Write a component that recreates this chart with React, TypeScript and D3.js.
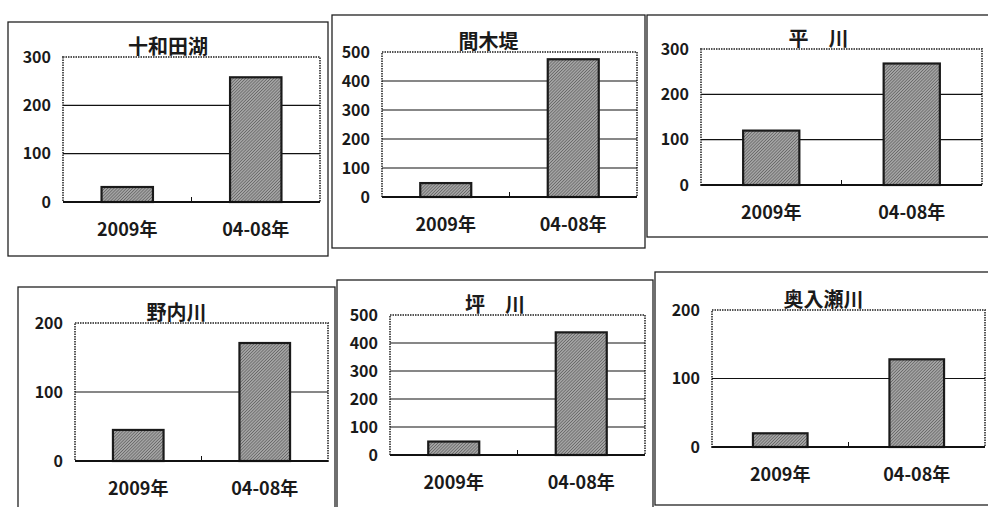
import React from "react";
import * as d3 from "d3";

// Survey sites and the two compared periods
const sites = ["十和田湖", "間木堤", "平　川", "野内川", "坪　川", "奥入瀬川"];
const categories = ["2009年", "04-08年"];

// Counts per site: 2009 season and the 2004–2008 average
const values2009 = [31, 48, 120, 45, 48, 20];
const values0408 = [258, 475, 268, 171, 438, 128];

// Upper limit of each panel's value axis and its tick step
const axisMax = [300, 500, 300, 200, 500, 200];
const tickStep = [100, 100, 100, 100, 100, 100];

// Page layout of the six panels: outer frame and plot area
const frames = [
  { x0: 8, y0: 22, x1: 328, y1: 256 },
  { x0: 332, y0: 15, x1: 645, y1: 248 },
  { x0: 647, y0: 15, x1: 990, y1: 237 },
  { x0: 18, y0: 287, x1: 335, y1: 512 },
  { x0: 337, y0: 280, x1: 653, y1: 512 },
  { x0: 655, y0: 272, x1: 992, y1: 505 },
];
const plots = [
  { x0: 63, y0: 57, x1: 320, y1: 202 },
  { x0: 382, y0: 52, x1: 637, y1: 197 },
  { x0: 701, y0: 49, x1: 982, y1: 185 },
  { x0: 75, y0: 323, x1: 328, y1: 461 },
  { x0: 390, y0: 315, x1: 645, y1: 455 },
  { x0: 712, y0: 310, x1: 985, y1: 447 },
];

const FONT = "'Noto Sans CJK JP', 'Noto Sans', sans-serif";

function Panel({ i }: { i: number }) {
  const f = frames[i];
  const p = plots[i];
  const vals = [values2009[i], values0408[i]];
  const x = d3
    .scaleBand<string>()
    .domain(categories)
    .range([p.x0, p.x1])
    .paddingInner(0.6)
    .paddingOuter(0.3);
  const y = d3.scaleLinear().domain([0, axisMax[i]]).range([p.y1, p.y0]);
  const ticks = d3.range(0, axisMax[i] + 1, tickStep[i]);
  const midX = (p.x0 + p.x1) / 2;

  return (
    <g>
      <rect
        x={f.x0}
        y={f.y0}
        width={f.x1 - f.x0}
        height={f.y1 - f.y0}
        fill="none"
        stroke="#222"
        strokeWidth={1.3}
      />
      <text
        x={(f.x0 + f.x1) / 2}
        y={p.y0 - 3}
        textAnchor="middle"
        fontFamily={FONT}
        fontSize={20}
        fontWeight={700}
        fill="#1a1a1a"
      >
        {sites[i]}
      </text>
      {/* plot area border */}
      <rect
        x={p.x0}
        y={p.y0}
        width={p.x1 - p.x0}
        height={p.y1 - p.y0}
        fill="none"
        stroke="#555"
        strokeWidth={2}
        strokeDasharray="1.5,1"
      />
      {/* gridlines */}
      {ticks
        .filter((t) => t > 0 && t < axisMax[i])
        .map((t) => (
          <line key={t} x1={p.x0} x2={p.x1} y1={y(t)} y2={y(t)} stroke="#111" strokeWidth={1.1} />
        ))}
      {/* tick labels */}
      {ticks.map((t) => (
        <text
          key={"l" + t}
          x={p.x0 - 12}
          y={y(t)}
          dy="0.36em"
          textAnchor="end"
          fontFamily={FONT}
          fontSize={16}
          fontWeight={700}
          fill="#1a1a1a"
        >
          {t}
        </text>
      ))}
      {/* bars */}
      {categories.map((c, k) => (
        <rect
          key={c}
          x={x(c)!}
          y={y(vals[k])}
          width={x.bandwidth()}
          height={y(0) - y(vals[k])}
          fill="url(#hatch)"
          stroke="#1a1a1a"
          strokeWidth={2.2}
        />
      ))}
      {/* category axis */}
      <line x1={p.x0} x2={p.x1} y1={p.y1} y2={p.y1} stroke="#111" strokeWidth={1.8} />
      <line x1={midX} x2={midX} y1={p.y1} y2={p.y1 - 5} stroke="#111" strokeWidth={1} />
      {categories.map((c) => (
        <text
          key={"c" + c}
          x={x(c)! + x.bandwidth() / 2}
          y={p.y1 + 34}
          textAnchor="middle"
          fontFamily={FONT}
          fontSize={18}
          fontWeight={700}
          fill="#1a1a1a"
        >
          {c}
        </text>
      ))}
    </g>
  );
}

export default function App() {
  return (
    <svg
      width={988}
      height={507}
      style={{ position: "absolute", left: 0, top: 0, background: "#fff" }}
    >
      <defs>
        <pattern id="hatch" width={2.2} height={2.2} patternUnits="userSpaceOnUse" patternTransform="rotate(45)">
          <rect width={2.2} height={2.2} fill="#a4a4a4" />
          <line x1={0} y1={0} x2={0} y2={2.2} stroke="#4a4a4a" strokeWidth={1} />
        </pattern>
      </defs>
      {sites.map((_, i) => (
        <Panel key={i} i={i} />
      ))}
    </svg>
  );
}
